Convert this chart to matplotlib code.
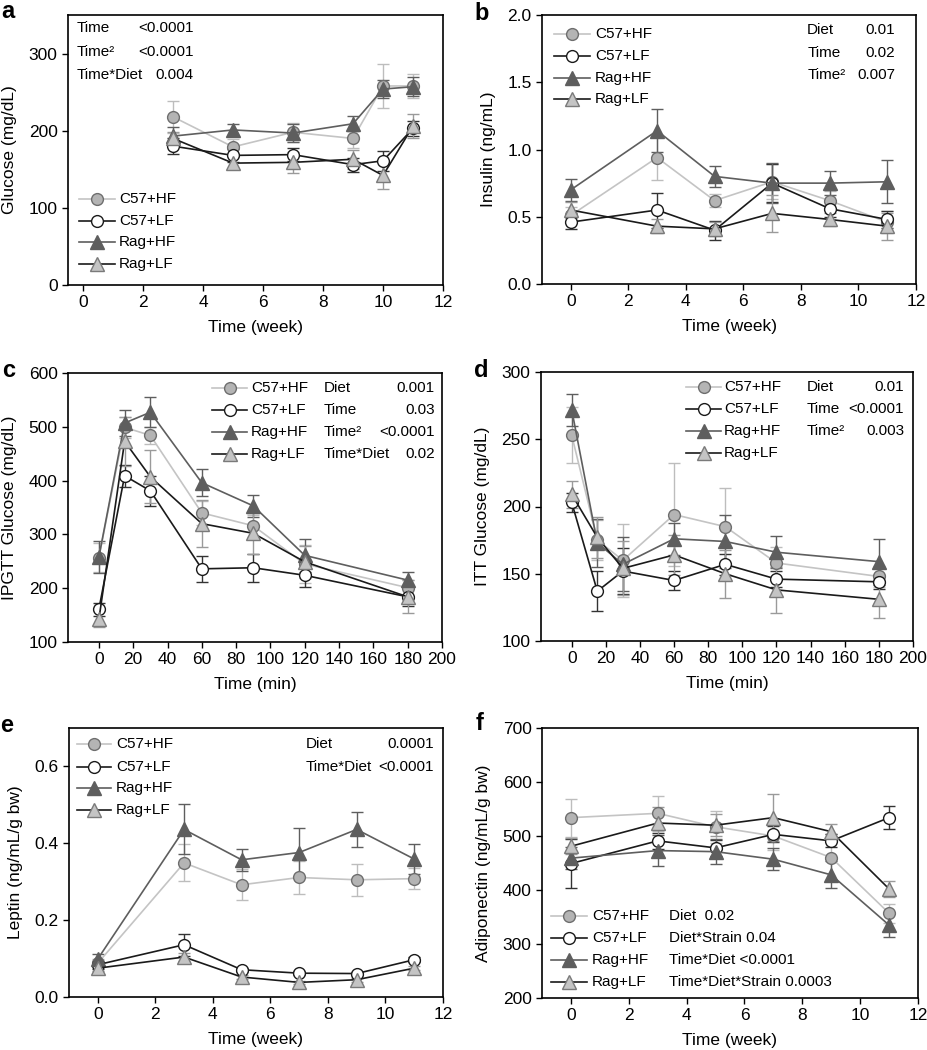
import matplotlib
matplotlib.use("Agg")
import matplotlib.pyplot as plt
from matplotlib.lines import Line2D

plt.rcParams["font.family"] = ["Liberation Sans", "DejaVu Sans"]
plt.rcParams["font.size"] = 11
plt.rcParams["xtick.labelsize"] = 12.5
plt.rcParams["ytick.labelsize"] = 12.5
plt.rcParams["axes.labelsize"] = 12.5

GROUPS = ["C57+HF", "C57+LF", "Rag+HF", "Rag+LF"]

# ---- a: glucose (mg/dL) vs week
a_x = [3, 5, 7, 9, 10, 11]
a_c57hf = [218, 179, 198, 190, 258, 258]
a_c57hf_err = [21, 10, 12, 12, 28, 16]
a_c57lf = [180, 168, 169, 156, 161, 203]
a_c57lf_err = [10, 8, 8, 9, 13, 10]
a_raghf = [193, 201, 197, 209, 254, 257]
a_raghf_err = [12, 8, 12, 10, 12, 12]
a_raglf = [190, 158, 159, 163, 142, 206]
a_raglf_err = [8, 8, 14, 12, 18, 16]

# ---- b: insulin (ng/mL) vs week
b_x = [0, 3, 5, 7, 9, 11]
b_c57hf = [0.51, 0.94, 0.62, 0.76, 0.62, 0.46]
b_c57hf_err = [0.06, 0.17, 0.05, 0.13, 0.07, 0.08]
b_c57lf = [0.46, 0.55, 0.40, 0.75, 0.56, 0.48]
b_c57lf_err = [0.05, 0.13, 0.07, 0.14, 0.06, 0.06]
b_raghf = [0.70, 1.14, 0.80, 0.75, 0.75, 0.76]
b_raghf_err = [0.08, 0.16, 0.08, 0.15, 0.09, 0.16]
b_raglf = [0.55, 0.43, 0.41, 0.525, 0.48, 0.43]
b_raglf_err = [0.06, 0.05, 0.05, 0.14, 0.05, 0.10]

# ---- c: IPGTT glucose vs min
c_x = [0, 15, 30, 60, 90, 120, 180]
c_c57hf = [257, 499, 484, 340, 316, 245, 201]
c_c57hf_err = [27, 20, 16, 23, 20, 35, 15]
c_c57lf = [161, 409, 381, 236, 238, 224, 184]
c_c57lf_err = [12, 20, 28, 24, 26, 22, 18]
c_raghf = [258, 507, 527, 396, 353, 261, 215]
c_raghf_err = [30, 25, 28, 25, 20, 30, 15]
c_raglf = [142, 473, 407, 320, 302, 249, 184]
c_raglf_err = [15, 45, 49, 44, 38, 30, 31]

# ---- d: ITT glucose vs min
d_x = [0, 15, 30, 60, 90, 120, 180]
d_c57hf = [253, 175, 160, 194, 185, 158, 148]
d_c57hf_err = [21, 15, 27, 38, 29, 12, 8]
d_c57lf = [203, 137, 152, 145, 157, 146, 144]
d_c57lf_err = [7, 15, 17, 7, 8, 6, 5]
d_raghf = [272, 173, 157, 176, 174, 166, 159]
d_raghf_err = [12, 18, 20, 12, 20, 12, 17]
d_raglf = [209, 177, 154, 164, 150, 138, 131]
d_raglf_err = [10, 15, 20, 15, 18, 17, 14]

# ---- e: leptin vs week
e_x = [0, 3, 5, 7, 9, 11]
e_c57hf = [0.088, 0.349, 0.292, 0.311, 0.305, 0.308]
e_c57hf_err = [0.010, 0.048, 0.040, 0.043, 0.042, 0.028]
e_c57lf = [0.084, 0.136, 0.071, 0.062, 0.061, 0.097]
e_c57lf_err = [0.010, 0.029, 0.005, 0.005, 0.005, 0.006]
e_raghf = [0.099, 0.436, 0.357, 0.376, 0.436, 0.359]
e_raghf_err = [0.012, 0.065, 0.028, 0.065, 0.045, 0.040]
e_raglf = [0.075, 0.104, 0.052, 0.038, 0.045, 0.075]
e_raglf_err = [0.008, 0.010, 0.005, 0.004, 0.005, 0.006]

# ---- f: adiponectin vs week
f_x = [0, 3, 5, 7, 9, 11]
f_c57hf = [534, 542, 517, 500, 460, 357]
f_c57hf_err = [35, 32, 30, 25, 44, 18]
f_c57lf = [449, 491, 478, 503, 491, 534]
f_c57lf_err = [46, 15, 15, 15, 12, 21]
f_raghf = [459, 473, 471, 457, 428, 335]
f_raghf_err = [20, 29, 23, 20, 25, 22]
f_raglf = [481, 524, 520, 534, 508, 402]
f_raglf_err = [15, 30, 20, 43, 15, 15]

# styles per group
STYLE = {
    "C57+HF": dict(lc="#c4c4c4", mfc="#b4b4b4", mec="#6e6e6e", m="o", ec="#bdbdbd"),
    "C57+LF": dict(lc="#1a1a1a", mfc="white", mec="#1a1a1a", m="o", ec="#333333"),
    "Rag+HF": dict(lc="#5e5e5e", mfc="#5e5e5e", mec="#5e5e5e", m="^", ec="#5e5e5e"),
    "Rag+LF": dict(lc="#1a1a1a", mfc="#c4c4c4", mec="#7a7a7a", m="^", ec="#9a9a9a"),
}
MS = {"o": 8.5, "^": 9.5}


def px_axes(fig, l, r, t, b):
    W, H = 928.0, 1050.0
    return fig.add_axes([l / W, 1 - b / H, (r - l) / W, (b - t) / H])


def draw_series(ax, x, series):
    for g, (y, e) in zip(GROUPS, series):
        s = STYLE[g]
        ax.errorbar(x, y, yerr=e, fmt="none", ecolor=s["ec"], elinewidth=1.0,
                    capsize=4, capthick=1.0, zorder=2)
        ax.plot(x, y, color=s["lc"], lw=1.2, marker=s["m"], ms=MS[s["m"]],
                mfc=s["mfc"], mec=s["mec"], mew=1.0, zorder=3)


def draw_legend(ax, x0, x1, xt, ys):
    for g, y in zip(GROUPS, ys):
        s = STYLE[g]
        ax.add_line(Line2D([x0, x1], [y, y], transform=ax.transAxes,
                           color=s["lc"], lw=1.2, clip_on=False))
        ax.add_line(Line2D([(x0 + x1) / 2], [y], transform=ax.transAxes,
                           marker=s["m"], ms=MS[s["m"]], mfc=s["mfc"], mec=s["mec"],
                           mew=1.0, clip_on=False))
        ax.text(xt, y, g, transform=ax.transAxes, va="center", ha="left")


def draw_stats(ax, xl, xr, ys, names, vals):
    for y, n, v in zip(ys, names, vals):
        ax.text(xl, y, n, transform=ax.transAxes, va="center", ha="left")
        if v:
            ax.text(xr, y, v, transform=ax.transAxes, va="center", ha="right")


def style_axes(ax, xlim, xticks, ylim, yticks, xlabel, ylabel, yfmt=None):
    ax.set_xlim(*xlim)
    ax.set_ylim(*ylim)
    ax.set_xticks(xticks)
    ax.set_yticks(yticks)
    if yfmt:
        ax.set_yticklabels([yfmt.format(v) for v in yticks])
    ax.set_xlabel(xlabel, labelpad=7)
    ax.set_ylabel(ylabel, labelpad=8)
    ax.tick_params(direction="out", length=4, width=1.0, pad=3.5, top=False, right=False)
    for sp in ax.spines.values():
        sp.set_linewidth(1.2)


fig = plt.figure(figsize=(9.28, 10.5), dpi=100)

# a
ax = px_axes(fig, 68, 443, 15, 285)
draw_series(ax, a_x, [(a_c57hf, a_c57hf_err), (a_c57lf, a_c57lf_err),
                      (a_raghf, a_raghf_err), (a_raglf, a_raglf_err)])
style_axes(ax, (-0.5, 12), range(0, 13, 2), (0, 350), [0, 100, 200, 300],
           "Time (week)", "Glucose (mg/dL)")
draw_legend(ax, 0.029, 0.125, 0.136, [0.319, 0.237, 0.159, 0.078])
draw_stats(ax, 0.024, 0.336, [0.952, 0.863, 0.778],
           ["Time", "Time²", "Time*Diet"], ["<0.0001", "<0.0001", "0.004"])

# b
ax = px_axes(fig, 542, 916, 15, 284)
draw_series(ax, b_x, [(b_c57hf, b_c57hf_err), (b_c57lf, b_c57lf_err),
                      (b_raghf, b_raghf_err), (b_raglf, b_raglf_err)])
style_axes(ax, (-1, 12), range(0, 13, 2), (0, 2.0), [0, 0.5, 1.0, 1.5, 2.0],
           "Time (week)", "Insulin (ng/mL)", "{:.1f}")
draw_legend(ax, 0.032, 0.128, 0.142, [0.929, 0.849, 0.767, 0.688])
draw_stats(ax, 0.709, 0.944, [0.944, 0.860, 0.777],
           ["Diet", "Time", "Time²"], ["0.01", "0.02", "0.007"])

# c
ax = px_axes(fig, 68, 442, 373, 642)
draw_series(ax, c_x, [(c_c57hf, c_c57hf_err), (c_c57lf, c_c57lf_err),
                      (c_raghf, c_raghf_err), (c_raglf, c_raglf_err)])
style_axes(ax, (-18, 200), range(0, 201, 20), (100, 600), range(100, 601, 100),
           "Time (min)", "IPGTT Glucose (mg/dL)")
draw_legend(ax, 0.385, 0.479, 0.489, [0.943, 0.862, 0.782, 0.699])
draw_stats(ax, 0.684, 0.981, [0.943, 0.862, 0.782, 0.699],
           ["Diet", "Time", "Time²", "Time*Diet"], ["0.001", "0.03", "<0.0001", "0.02"])

# d
ax = px_axes(fig, 541, 913, 372, 641)
draw_series(ax, d_x, [(d_c57hf, d_c57hf_err), (d_c57lf, d_c57lf_err),
                      (d_raghf, d_raghf_err), (d_raglf, d_raglf_err)])
style_axes(ax, (-18, 200), range(0, 201, 20), (100, 300), range(100, 301, 50),
           "Time (min)", "ITT Glucose (mg/dL)")
draw_legend(ax, 0.390, 0.484, 0.492, [0.945, 0.863, 0.782, 0.700])
draw_stats(ax, 0.715, 0.976, [0.945, 0.863, 0.782],
           ["Diet", "Time", "Time²"], ["0.01", "<0.0001", "0.003"])

# e
ax = px_axes(fig, 69, 443, 728, 997)
draw_series(ax, e_x, [(e_c57hf, e_c57hf_err), (e_c57lf, e_c57lf_err),
                      (e_raghf, e_raghf_err), (e_raglf, e_raglf_err)])
style_axes(ax, (-1, 12), range(0, 13, 2), (0, 0.7), [0, 0.2, 0.4, 0.6],
           "Time (week)", "Leptin (ng/mL/g bw)", "{:.1f}")
draw_legend(ax, 0.021, 0.112, 0.126, [0.941, 0.856, 0.776, 0.695])
draw_stats(ax, 0.634, 0.976, [0.941, 0.856],
           ["Diet", "Time*Diet"], ["0.0001", "<0.0001"])

# f
ax = px_axes(fig, 542, 918, 728, 998)
draw_series(ax, f_x, [(f_c57hf, f_c57hf_err), (f_c57lf, f_c57lf_err),
                      (f_raghf, f_raghf_err), (f_raglf, f_raglf_err)])
style_axes(ax, (-1, 12), range(0, 13, 2), (200, 700), range(200, 701, 100),
           "Time (week)", "Adiponectin (ng/mL/g bw)")
draw_legend(ax, 0.024, 0.120, 0.133, [0.304, 0.221, 0.141, 0.058])
draw_stats(ax, 0.338, None, [0.304, 0.221, 0.141, 0.058],
           ["Diet  0.02", "Diet*Strain 0.04", "Time*Diet <0.0001",
            "Time*Diet*Strain 0.0003"], [None] * 4)

# panel letters
for lab, x, y in [("a", 1, 0), ("b", 474, 2), ("c", 2, 359), ("d", 474, 359),
                  ("e", 0, 714), ("f", 476, 712)]:
    fig.text(x / 928, 1 - y / 1050, lab, fontsize=17, fontweight="bold",
             ha="left", va="top")

fig.savefig("out.png", dpi=100)
